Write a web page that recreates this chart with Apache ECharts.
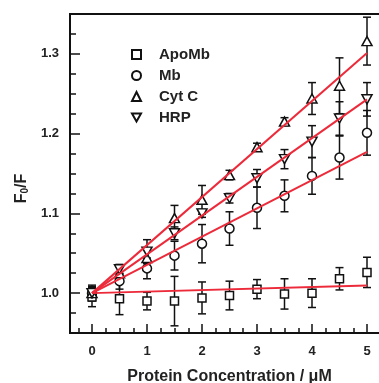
<!DOCTYPE html>
<html>
<head>
<meta charset="utf-8">
<script src="https://cdn.jsdelivr.net/npm/echarts@6/dist/echarts.min.js"></script>
<style>
html, body { margin: 0; padding: 0; background: #fff; }
#echarts { width: 379px; height: 383px; }
</style>
</head>
<body>
<div id="echarts"></div>
<script>
// concentrations (uM)
var xValues = [0, 0.5, 1, 1.5, 2, 2.5, 3, 3.5, 4, 4.5, 5];

var apoMb = [0.995, 0.993, 0.990, 0.990, 0.994, 0.997, 1.005, 0.999, 1.000, 1.018, 1.026];
var apoMbErr = [0.012, 0.020, 0.011, 0.031, 0.020, 0.018, 0.012, 0.019, 0.018, 0.014, 0.019];
var mb = [1.000, 1.015, 1.031, 1.047, 1.062, 1.081, 1.107, 1.122, 1.147, 1.170, 1.201];
var mbErr = [0.008, 0.010, 0.013, 0.018, 0.024, 0.021, 0.026, 0.020, 0.023, 0.027, 0.028];
var cytC = [1.000, 1.025, 1.044, 1.094, 1.117, 1.148, 1.183, 1.215, 1.244, 1.260, 1.316];
var cytCErr = [0.005, 0.008, 0.012, 0.016, 0.018, 0.006, 0.005, 0.005, 0.020, 0.035, 0.030];
var hrp = [1.000, 1.030, 1.052, 1.075, 1.100, 1.119, 1.144, 1.168, 1.190, 1.219, 1.243];
var hrpErr = [0.010, 0.006, 0.015, 0.008, 0.005, 0.006, 0.011, 0.012, 0.020, 0.021, 0.021];

// linear fits, start and end
var fitX = [0, 5];
var apoMbFit = [1.0, 1.0095];
var mbFit = [1.0, 1.177];
var cytCFit = [1.0, 1.301];
var hrpFit = [1.0, 1.243];

var xMajorTicks = [0, 1, 2, 3, 4, 5];
var xMinorTicks = [-0.25, 0.25, 0.5, 0.75, 1.25, 1.5, 1.75, 2.25, 2.5, 2.75, 3.25, 3.5, 3.75, 4.25, 4.5, 4.75, 5.25];
var yMajorTicks = [1.0, 1.1, 1.2, 1.3];
var yMinorTicks = [0.975, 1.025, 1.05, 1.075, 1.125, 1.15, 1.175, 1.225, 1.25, 1.275, 1.325];

var FONT = 'Liberation Sans, Arial, sans-serif';
var downTri = 'path://M0,0L10,0L5,8.7Z';
var PLOT_W = 319, PLOT_H = 319;

function pairs(ys) {
    return xValues.map(function (x, i) { return [x, ys[i]]; });
}
function errData(ys, es) {
    return xValues.map(function (x, i) { return [x, ys[i], es[i]]; });
}
function fitData(ys) {
    return fitX.map(function (x, i) { return [x, ys[i]]; });
}

function renderErr(params, api) {
    var x = api.value(0), y = api.value(1), e = api.value(2);
    var top = api.coord([x, y + e]);
    var bot = api.coord([x, y - e]);
    var w = 4;
    var st = { stroke: '#111', lineWidth: 1.5 };
    return {
        type: 'group',
        children: [
            { type: 'line', shape: { x1: top[0], y1: top[1], x2: bot[0], y2: bot[1] }, style: st },
            { type: 'line', shape: { x1: top[0] - w, y1: top[1], x2: top[0] + w, y2: top[1] }, style: st },
            { type: 'line', shape: { x1: bot[0] - w, y1: bot[1], x2: bot[0] + w, y2: bot[1] }, style: st }
        ]
    };
}

function errSeries(ys, es) {
    return {
        type: 'custom',
        renderItem: renderErr,
        data: errData(ys, es),
        z: 2,
        silent: true
    };
}
function pointSeries(name, ys, symbol, size) {
    return {
        name: name,
        type: 'scatter',
        data: pairs(ys),
        symbol: symbol,
        symbolSize: size,
        itemStyle: { color: '#fff', borderColor: '#111', borderWidth: 1.5, opacity: 1 },
        z: 3
    };
}
function fitSeries(ys) {
    return {
        type: 'line',
        data: fitData(ys),
        symbol: 'none',
        lineStyle: { color: '#ec2a3a', width: 2 },
        z: 4,
        silent: true
    };
}

var axisTxt = { color: '#222', fontFamily: FONT, fontWeight: 'bold', fontSize: 13 };

var myChart = echarts.init(document.getElementById('echarts'));
var option = {
    animation: false,
    backgroundColor: '#fff',
    grid: {
        left: 70, top: 14, width: PLOT_W, height: PLOT_H,
        outerBoundsMode: 'none',
        containLabel: false,
        show: true, borderColor: '#111', borderWidth: 2
    },
    legend: {
        data: ['ApoMb', 'Mb', 'Cyt C', 'HRP'],
        orient: 'vertical',
        left: 126,
        top: 42,
        itemWidth: 9,
        itemHeight: 9,
        itemGap: 6,
        textStyle: {
            color: '#222', fontFamily: FONT, fontWeight: 'bold', fontSize: 15,
            padding: [0, 0, 0, 13]
        }
    },
    xAxis: [
        {
            type: 'value', min: -0.4, max: 5.4, position: 'bottom',
            name: 'Protein Concentration / μM',
            nameLocation: 'middle',
            nameGap: 36,
            nameTextStyle: { color: '#222', fontFamily: FONT, fontWeight: 'bold', fontSize: 16 },
            axisLine: { onZero: false, lineStyle: { color: '#111', width: 2 } },
            axisTick: { inside: true, length: 9, customValues: xMajorTicks, lineStyle: { color: '#111', width: 1.5 } },
            axisLabel: Object.assign({ margin: 12, customValues: xMajorTicks }, axisTxt),
            splitLine: { show: false }
        },
        {
            // minor ticks: a top axis moved down onto the bottom edge
            type: 'value', min: -0.4, max: 5.4, position: 'top', offset: -PLOT_H,
            axisLine: { show: false, onZero: false },
            axisTick: { inside: false, length: 5, customValues: xMinorTicks, lineStyle: { color: '#111', width: 1.5 } },
            axisLabel: { show: false },
            splitLine: { show: false }
        }
    ],
    yAxis: [
        {
            type: 'value', min: 0.95, max: 1.35, position: 'left',
            name: '{f|F}{s|0}{f|/F}',
            nameLocation: 'middle',
            nameGap: 40,
            nameTextStyle: {
                padding: [0, 30, 0, 0],
                rich: {
                    f: { color: '#222', fontFamily: FONT, fontWeight: 'bold', fontSize: 16 },
                    s: { color: '#222', fontFamily: FONT, fontWeight: 'bold', fontSize: 10, verticalAlign: 'bottom', padding: [6, 0, 0, 0] }
                }
            },
            axisLine: { onZero: false, lineStyle: { color: '#111', width: 2 } },
            axisTick: { inside: true, length: 10, customValues: yMajorTicks, lineStyle: { color: '#111', width: 1.5 } },
            axisLabel: Object.assign({
                margin: 11, customValues: yMajorTicks,
                formatter: function (v) { return v.toFixed(1); }
            }, axisTxt),
            splitLine: { show: false }
        },
        {
            // minor ticks: a right axis moved onto the left edge
            type: 'value', min: 0.95, max: 1.35, position: 'right', offset: -PLOT_W,
            axisLine: { show: false, onZero: false },
            axisTick: { inside: false, length: 6, customValues: yMinorTicks, lineStyle: { color: '#111', width: 1.5 } },
            axisLabel: { show: false },
            splitLine: { show: false }
        }
    ],
    series: [
        errSeries(apoMb, apoMbErr),
        errSeries(mb, mbErr),
        errSeries(cytC, cytCErr),
        errSeries(hrp, hrpErr),
        pointSeries('ApoMb', apoMb, 'rect', 8),
        pointSeries('Mb', mb, 'circle', 9),
        pointSeries('Cyt C', cytC, 'triangle', [10, 9]),
        pointSeries('HRP', hrp, downTri, [10, 9]),
        fitSeries(apoMbFit),
        fitSeries(mbFit),
        fitSeries(cytCFit),
        fitSeries(hrpFit)
    ]
};
myChart.setOption(option);
</script>
</body>
</html>
